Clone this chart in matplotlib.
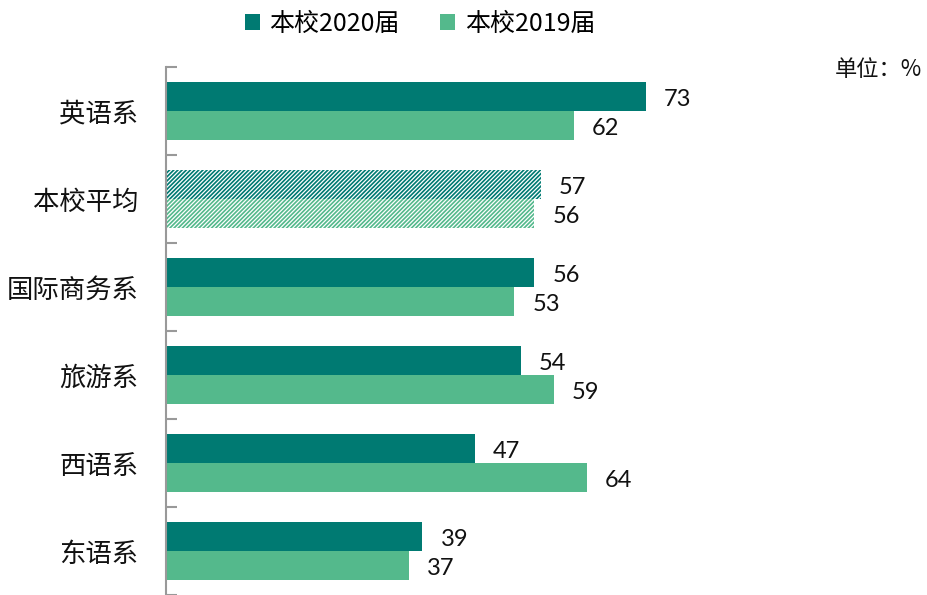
import matplotlib
matplotlib.use("Agg")
import matplotlib.pyplot as plt
import numpy as np
from matplotlib.patches import Patch

plt.rcParams['font.family'] = ['Noto Sans CJK SC', 'DejaVu Sans']
plt.rcParams['hatch.linewidth'] = 0.9

categories = ['英语系', '本校平均', '国际商务系', '旅游系', '西语系', '东语系']
series_names = ['本校2020届', '本校2019届']
values_2020 = [73, 57, 56, 54, 47, 39]
values_2019 = [62, 56, 53, 59, 64, 37]
highlight = '本校平均'
unit_text = '单位：%'

c2020 = '#007A72'
c2019 = '#54B98C'

W, H = 927, 595
fig = plt.figure(figsize=(W / 100, H / 100), dpi=100)
ax_left = 166 / W
ax_right = 900 / W
ax_top = 67 / H
ax = fig.add_axes([ax_left, 0, ax_right - ax_left, 1 - ax_top])

n = len(categories)
y = np.arange(n)
bh = 29 / 88

for i, cat in enumerate(categories):
    hatch = '////////' if cat == highlight else None
    for val, off, col in ((values_2020[i], -bh / 2, c2020), (values_2019[i], bh / 2, c2019)):
        if hatch:
            ax.barh(y[i] + off, val, height=bh, color=col, edgecolor='white',
                    hatch=hatch, linewidth=0)
        else:
            ax.barh(y[i] + off, val, height=bh, color=col, linewidth=0)
        ax.annotate(f'{val}', xy=(val, y[i] + off), xytext=(18, -3),
                    textcoords='offset pixels',
                    va='center', ha='left', fontsize=17, family=['Lato', 'DejaVu Sans'],
                    color='#111111')

scale = 480 / 73
ax.set_xlim(0, (900 - 166) / scale)
ax.set_ylim(n - 0.5, -0.5)

for s in ['top', 'right', 'bottom']:
    ax.spines[s].set_visible(False)
ax.spines['left'].set_color('#999999')
ax.spines['left'].set_linewidth(1.5)
ax.set_xticks([])
ax.set_yticks(np.arange(-0.5, n, 1))
ax.set_yticklabels([])
ax.tick_params(axis='y', which='major', direction='in', length=8, width=1.5, color='#999999')
ax.set_yticks(y, minor=True)
ax.set_yticklabels(categories, minor=True, fontsize=19)
ax.tick_params(axis='y', which='minor', length=0, pad=20, labelcolor='#111111')

handles = [Patch(facecolor=c2020, label=series_names[0]),
           Patch(facecolor=c2019, label=series_names[1])]
fig.legend(handles=handles, loc='center', bbox_to_anchor=(420 / W, 1 - 24 / H), ncol=2,
           frameon=False, fontsize=18, handlelength=0.6, handleheight=0.6,
           handletextpad=0.4, columnspacing=1.6)

fig.text(922 / W, 1 - 70 / H, unit_text, ha='right', va='center', fontsize=16, color='#111111')

fig.savefig('out.png', dpi=100)
